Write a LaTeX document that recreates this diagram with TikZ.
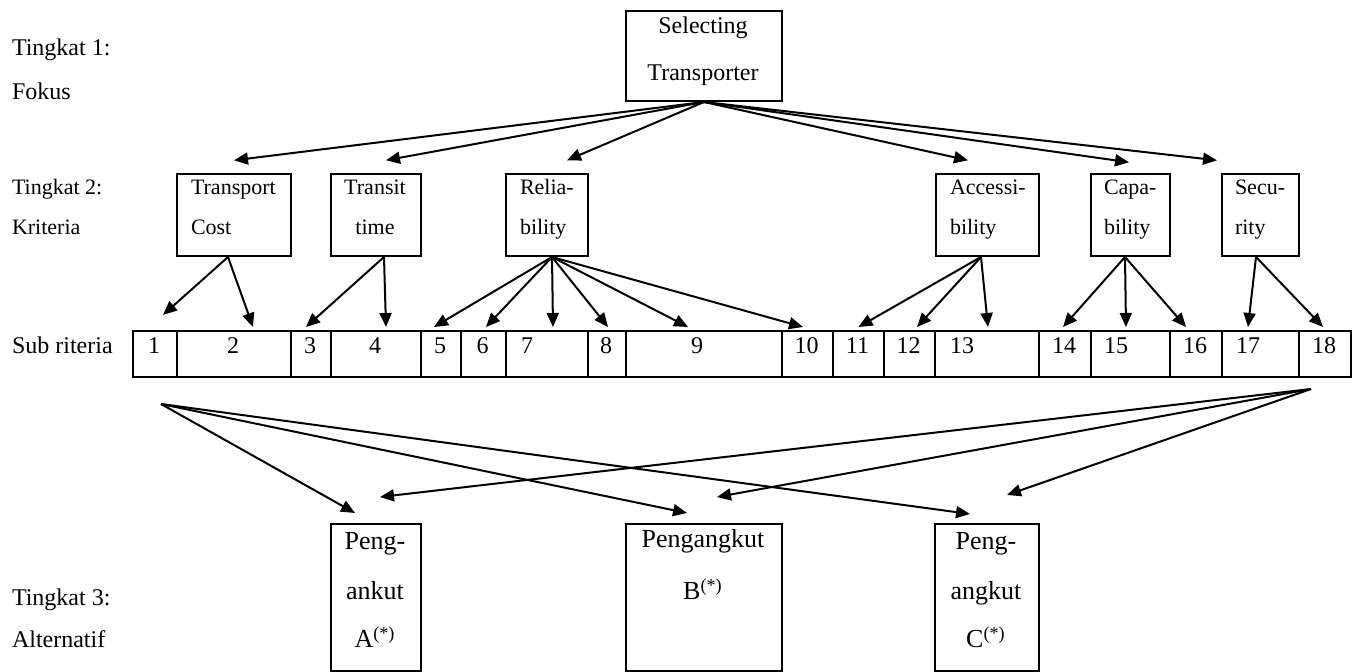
\documentclass[tikz,border=0pt]{standalone}
\usepackage{fontspec}
\setmainfont{Liberation Serif}
\usetikzlibrary{arrows.meta,positioning}

\begin{document}
\begin{tikzpicture}[x=0.5pt, y=-0.5pt, >={Triangle[length=7pt,width=6pt]}, line width=1pt,
    box/.style={draw, inner sep=0pt, anchor=north west},
    cell/.style={draw, inner sep=0pt, anchor=north west, minimum height=23pt},
    txt/.style={inner sep=0pt, font=\fontsize{12}{14}\selectfont},
    crit/.style={inner sep=0pt, font=\fontsize{11}{13}\selectfont},
    alt/.style={inner sep=0pt, font=\fontsize{13}{15}\selectfont}]
    \useasboundingbox (0,0) rectangle (1354,672);
    % level labels
    \node[txt, anchor=base west] (lv1a) at (11,56) {Tingkat 1:};
    \node[txt, anchor=base west] (lv1b) at (11,100) {Fokus};
    \node[crit, anchor=base west] (lv2a) at (11,195) {Tingkat 2:};
    \node[crit, anchor=base west] (lv2b) at (11,235) {Kriteria};
    \node[txt, anchor=base west] (lvsub) at (11,354) {Sub riteria};
    \node[txt, anchor=base west] (lv3a) at (11,606) {Tingkat 3:};
    \node[txt, anchor=base west] (lv3b) at (11,648) {Alternatif};
    % goal
    \node[box, minimum width=78pt, minimum height=45pt] (goal) at (625,10) {};
    \node[txt, anchor=base] (goala) at (703,34) {Selecting};
    \node[txt, anchor=base] (goalb) at (703,81) {Transporter};
    % criteria
    \node[box, minimum width=57pt, minimum height=41pt] (cost) at (176,173) {};
    \node[crit, anchor=base west] (costa) at (190,195) {Transport};
    \node[crit, anchor=base west] (costb) at (190,235) {Cost};
    \node[box, minimum width=45pt, minimum height=41pt] (transit) at (330,173) {};
    \node[crit, anchor=base] (transita) at (375,195) {Transit};
    \node[crit, anchor=base] (transitb) at (375,235) {time};
    \node[box, minimum width=41pt, minimum height=41pt] (rel) at (505,173) {};
    \node[crit, anchor=base west] (rela) at (519,195) {Relia-};
    \node[crit, anchor=base west] (relb) at (519,235) {bility};
    \node[box, minimum width=51.5pt, minimum height=41pt] (acc) at (935,173) {};
    \node[crit, anchor=base west] (acca) at (949,195) {Accessi-};
    \node[crit, anchor=base west] (accb) at (949,235) {bility};
    \node[box, minimum width=39.5pt, minimum height=41pt] (cap) at (1090,173) {};
    \node[crit, anchor=base west] (capa) at (1103,195) {Capa-};
    \node[crit, anchor=base west] (capb) at (1103,235) {bility};
    \node[box, minimum width=38.5pt, minimum height=41pt] (sec) at (1221,173) {};
    \node[crit, anchor=base west] (seca) at (1234,195) {Secu-};
    \node[crit, anchor=base west] (secb) at (1234,235) {rity};
    % sub criteria row
    \foreach \i/\xa/\xb/\tx/\an in {1/132/176/154/base, 2/176/290/233/base, 3/290/330/310/base,
        4/330/420/375/base, 5/420/460/440/base, 6/460/505/482.5/base, 7/505/587/520/base west,
        8/587/625/606/base, 9/625/781/697/base, 10/781/832/806.5/base, 11/832/883/857.5/base,
        12/883/934/908.5/base, 13/934/1038/949/base west, 14/1038/1090/1064/base,
        15/1090/1169/1103/base west, 16/1169/1221/1195/base, 17/1221/1298/1235/base west,
        18/1298/1350/1324/base}{
        \pgfmathsetmacro{\w}{(\xb-\xa)/2}
        \node[cell, minimum width=\w pt] (c\i) at (\xa,330) {};
        \node[txt, anchor=\an] (n\i) at (\tx,354) {\i};
    }
    % alternatives
    \node[box, minimum width=45pt, minimum height=73.75pt] (altA) at (330,523) {};
    \node[alt, anchor=base] (altAa) at (375,550) {Peng-};
    \node[alt, anchor=base] (altAb) at (375,600) {ankut};
    \node[alt, anchor=base] (altAc) at (375,648) {A\textsuperscript{(*)}};
    \node[box, minimum width=78pt, minimum height=73.75pt] (altB) at (625,523) {};
    \node[alt, anchor=base] (altBa) at (703,548) {Pengangkut};
    \node[alt, anchor=base] (altBb) at (703,600) {B\textsuperscript{(*)}};
    \node[box, minimum width=52pt, minimum height=73.75pt] (altC) at (934,523) {};
    \node[alt, anchor=base] (altCa) at (986,550) {Peng-};
    \node[alt, anchor=base] (altCb) at (986,600) {angkut};
    \node[alt, anchor=base] (altCc) at (986,648) {C\textsuperscript{(*)}};
    % goal to criteria
    \foreach \b/\dx/\dy in {cost/0/6.35, transit/5/6.35, rel/10/6.35, acc/-9.75/6.35, cap/-0.75/5.35, sec/-21.75/6.35}
        \draw[->] (goal.south) -- ([xshift=\dx pt,yshift=\dy pt]\b.north);
    % criteria to sub criteria
    \draw[->] ([xshift=-3pt]cost.south) -- ([xshift=4pt,yshift=7.5pt]c1.north);
    \draw[->] ([xshift=-3pt]cost.south) -- ([xshift=9.5pt,yshift=1.5pt]c2.north);
    \draw[->] ([xshift=4pt]transit.south) -- ([xshift=-2.5pt,yshift=1.5pt]c3.north);
    \draw[->] ([xshift=4pt]transit.south) -- ([xshift=5pt,yshift=1.5pt]c4.north);
    \foreach \k/\dx in {5/-3.5, 6/1.25, 7/3, 8/0.5, 9/-8, 10/-2.25}
        \draw[->] ([xshift=2.5pt]rel.south) -- ([xshift=\dx pt,yshift=1.5pt]c\k.north);
    \foreach \k/\dx in {11/0, 12/3.75, 13/0.5}
        \draw[->] ([xshift=-3.25pt]acc.south) -- ([xshift=\dx pt,yshift=1.5pt]c\k.north);
    \foreach \k/\dx in {14/-1, 15/-2.25, 16/-5}
        \draw[->] ([xshift=-2.75pt]cap.south) -- ([xshift=\dx pt,yshift=1.5pt]c\k.north);
    \foreach \k/\dx in {17/-6.25, 18/-1}
        \draw[->] ([xshift=-2.25pt]sec.south) -- ([xshift=\dx pt,yshift=1.5pt]c\k.north);
    % sub criteria to alternatives
    \coordinate (subL) at ([xshift=3pt,yshift=-13pt]c1.south);
    \coordinate (subR) at ([xshift=-7pt,yshift=-5.5pt]c18.south);
    \foreach \b/\dxl/\dyl/\dxr/\dyr in {altA/-10.5/5/2/13, altB/-8.5/5/6.5/13, altC/-8.5/4.5/10/14}{
        \draw[->] (subL) -- ([xshift=\dxl pt,yshift=\dyl pt]\b.north);
        \draw[->] (subR) -- ([xshift=\dxr pt,yshift=\dyr pt]\b.north);
    }
\end{tikzpicture}
\end{document}
